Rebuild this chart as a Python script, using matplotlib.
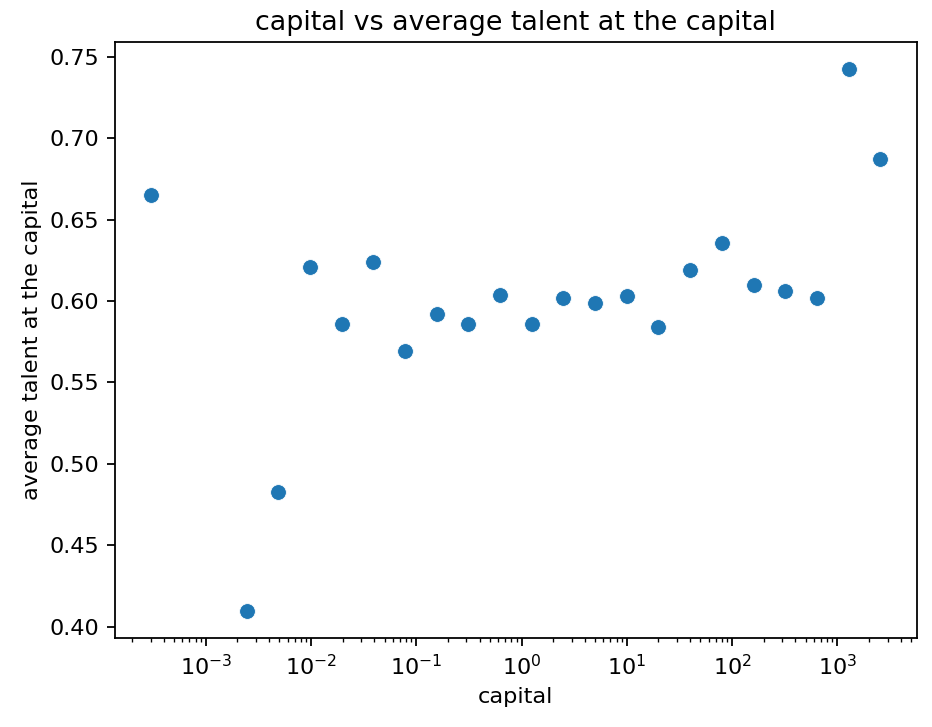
import matplotlib
matplotlib.use('Agg')
import matplotlib.pyplot as plt

# capital values (doubling steps) and average talent at that capital
capital = [0.000305, 0.00244, 0.00488, 0.00977, 0.0195, 0.0391, 0.0781,
           0.156, 0.3125, 0.625, 1.25, 2.5, 5, 10, 20, 40, 80, 160, 320,
           640, 1280, 2560]
avg_talent = [0.6654, 0.4095, 0.483, 0.6207, 0.586, 0.6238, 0.5692,
              0.5919, 0.586, 0.604, 0.586, 0.6021, 0.5991, 0.603, 0.5841,
              0.6189, 0.6358, 0.6101, 0.6062, 0.6021, 0.7425, 0.6873]

k = 1.12  # the reference was drawn a bit bigger than 144 dpi
plt.rcParams.update({
    'font.size': 10 * k,
    'axes.linewidth': 0.8 * k,
    'xtick.major.size': 3.5 * k, 'ytick.major.size': 3.5 * k,
    'xtick.minor.size': 2 * k, 'ytick.minor.size': 2 * k,
    'xtick.major.width': 0.8 * k, 'ytick.major.width': 0.8 * k,
    'xtick.minor.width': 0.6 * k, 'ytick.minor.width': 0.6 * k,
    'xtick.major.pad': 3.5 * k, 'ytick.major.pad': 3.5 * k,
})

fig = plt.figure(figsize=(932 / 144, 727 / 144), dpi=144)
ax = fig.add_axes([0.1234, 0.122, 0.9836 - 0.1234, 0.9422 - 0.122])
ax.scatter(capital, avg_talent, s=62, edgecolors='white', linewidths=0.4)
ax.set_xscale('log')
ax.set_xlabel('capital')
ax.set_ylabel('average talent at the capital')
ax.set_title('capital vs average talent at the capital')
fig.savefig('out.png', dpi=144)
